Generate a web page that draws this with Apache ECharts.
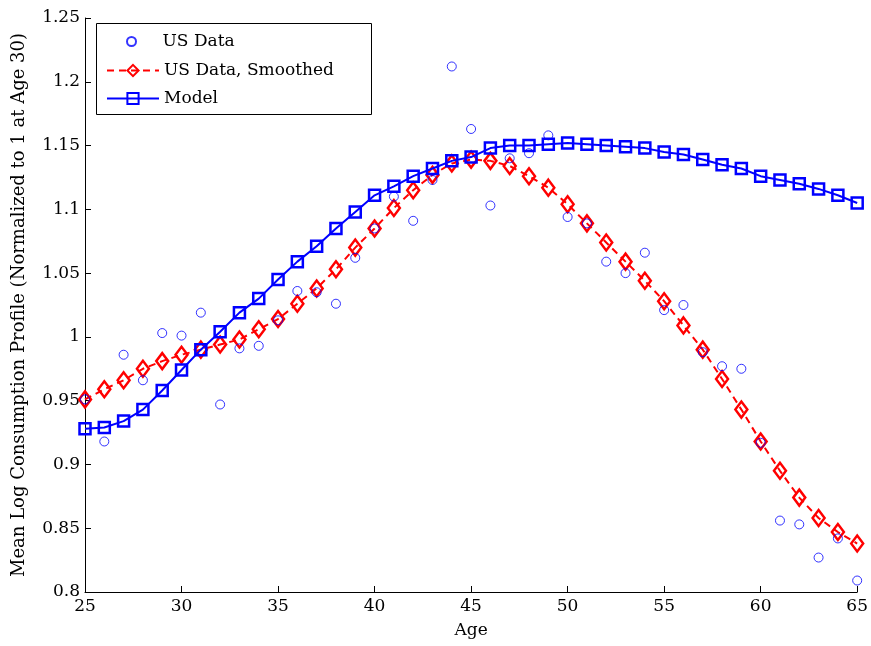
<!DOCTYPE html>
<html>
<head>
<meta charset="utf-8">
<script src="https://cdn.jsdelivr.net/npm/echarts@6/dist/echarts.min.js"></script>
<style>
html,body{margin:0;padding:0;background:#fff;}
#chart{width:871px;height:646px;}
</style>
</head>
<body>
<div id="chart"></div>
<script>
'use strict';
// ages 25..65
var ages = [];
for (var a = 25; a <= 65; a++) { ages.push(a); }

// raw data (circles)
var usData = [0.951, 0.918, 0.986, 0.966, 1.003, 1.001, 1.019, 0.947, 0.991, 0.993,
              1.013, 1.036, 1.035, 1.026, 1.062, 1.085, 1.110, 1.091, 1.123, 1.212,
              1.163, 1.103, 1.140, 1.144, 1.158, 1.094, 1.089, 1.059, 1.050, 1.066,
              1.021, 1.025, 0.988, 0.977, 0.975, 0.917, 0.856, 0.853, 0.827, 0.842,
              0.809];

// smoothed data (diamonds)
var usSmoothed = [0.951, 0.959, 0.966, 0.975, 0.981, 0.986, 0.990, 0.994, 0.998, 1.006,
                  1.014, 1.026, 1.038, 1.053, 1.070, 1.085, 1.101, 1.115, 1.127, 1.136,
                  1.139, 1.138, 1.134, 1.126, 1.117, 1.104, 1.089, 1.074, 1.059, 1.044,
                  1.028, 1.009, 0.990, 0.967, 0.943, 0.918, 0.895, 0.874, 0.858, 0.847,
                  0.838];

// model (squares)
var model = [0.928, 0.929, 0.934, 0.943, 0.958, 0.974, 0.990, 1.004, 1.019, 1.030,
             1.045, 1.059, 1.071, 1.085, 1.098, 1.111, 1.118, 1.126, 1.132, 1.138,
             1.141, 1.148, 1.150, 1.150, 1.151, 1.152, 1.151, 1.150, 1.149, 1.148,
             1.145, 1.143, 1.139, 1.135, 1.132, 1.126, 1.123, 1.120, 1.116, 1.111,
             1.105];

function pairs(vals) {
    var out = [];
    for (var i = 0; i < vals.length; i++) {
        out.push([ages[i], vals[i]]);
    }
    return out;
}

var FONT = 'DejaVu Serif';
var legendText = { fontFamily: FONT, fontSize: 17, color: '#000' };

var myChart = echarts.init(document.getElementById('chart'));
var option = {
    animation: false,
    backgroundColor: '#fff',
    textStyle: { fontFamily: FONT },
    grid: { left: 85, right: 7, top: 18, bottom: 54 },
    // legend frame
    graphic: [{
        type: 'rect',
        left: 96, top: 23, z: 90,
        shape: { width: 275, height: 91 },
        style: { fill: '#fff', stroke: '#000', lineWidth: 1 }
    }],
    legend: [
        {
            orient: 'vertical',
            left: 126, top: 33, padding: 0, z: 100,
            itemWidth: 52, itemHeight: 9,
            textStyle: legendText,
            data: ['US Data']
        },
        {
            orient: 'vertical',
            left: 106, top: 62, padding: 0, z: 100,
            itemGap: 11,
            itemWidth: 52, itemHeight: 14,
            textStyle: legendText,
            data: ['US Data, Smoothed', 'Model']
        }
    ],
    xAxis: {
        type: 'value',
        min: 25,
        max: 65,
        interval: 5,
        name: 'Age',
        nameLocation: 'middle',
        nameGap: 30,
        nameTextStyle: { fontFamily: FONT, fontSize: 17, color: '#000' },
        axisLine: { lineStyle: { color: '#000', width: 1 } },
        axisTick: { inside: true, length: 6, lineStyle: { color: '#000' } },
        axisLabel: { fontFamily: FONT, fontSize: 17, color: '#000', margin: 6 },
        splitLine: { show: false }
    },
    yAxis: {
        type: 'value',
        min: 0.8,
        max: 1.25,
        interval: 0.05,
        name: 'Mean Log Consumption Profile (Normalized to 1 at Age 30)',
        nameLocation: 'middle',
        nameGap: 57,
        nameTextStyle: { fontFamily: FONT, fontSize: 18, color: '#000' },
        axisLine: { show: true, lineStyle: { color: '#000', width: 1 } },
        axisTick: { show: true, inside: true, length: 6, lineStyle: { color: '#000' } },
        axisLabel: {
            fontFamily: FONT, fontSize: 17, color: '#000', margin: 5,
            formatter: function (v) { return String(parseFloat(v.toFixed(2))); }
        },
        splitLine: { show: false }
    },
    series: [
        {
            name: 'US Data',
            type: 'scatter',
            data: pairs(usData),
            symbol: 'circle',
            symbolSize: 9,
            itemStyle: { color: 'rgba(0,0,0,0)', borderColor: '#0000ff', borderWidth: 1 },
            z: 5
        },
        {
            name: 'US Data, Smoothed',
            type: 'line',
            data: pairs(usSmoothed),
            symbol: 'diamond',
            symbolSize: [12, 16],
            showAllSymbol: true,
            lineStyle: { color: '#ff0000', width: 2, type: [7, 5] },
            itemStyle: { color: 'rgba(0,0,0,0)', borderColor: '#ff0000', borderWidth: 2.5 },
            z: 3
        },
        {
            name: 'Model',
            type: 'line',
            data: pairs(model),
            symbol: 'rect',
            symbolSize: 11,
            showAllSymbol: true,
            lineStyle: { color: '#0000ff', width: 2 },
            itemStyle: { color: 'rgba(0,0,0,0)', borderColor: '#0000ff', borderWidth: 2.5 },
            z: 4
        }
    ]
};
myChart.setOption(option);
</script>
</body>
</html>
